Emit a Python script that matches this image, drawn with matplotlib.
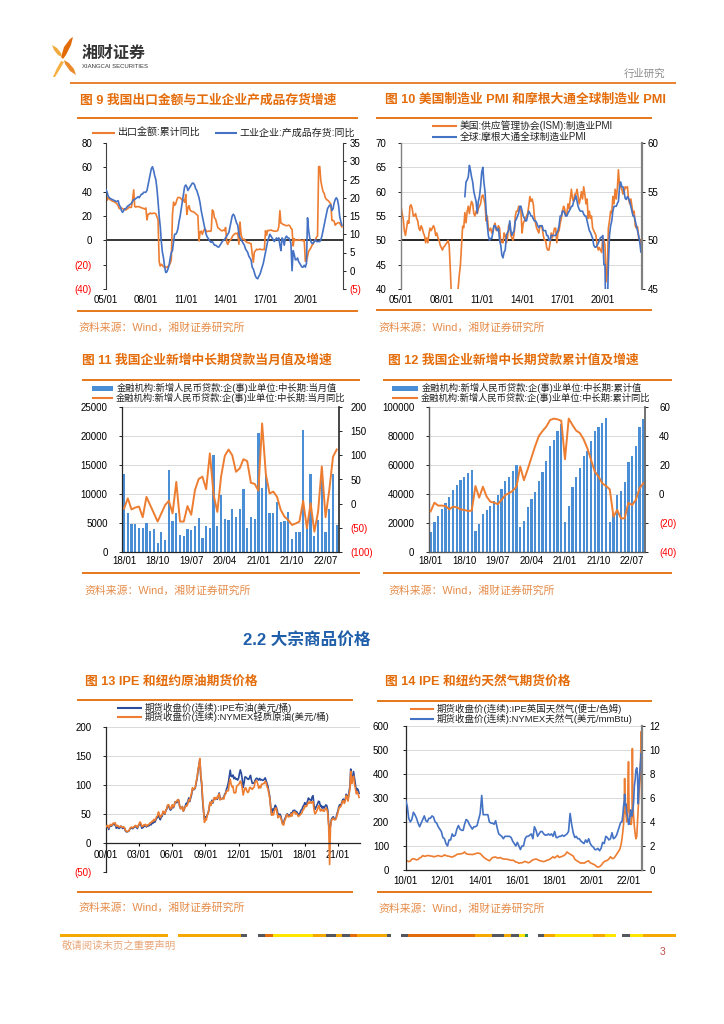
import numpy as np
import pandas as pd
import matplotlib
matplotlib.use('Agg')
import matplotlib.pyplot as plt
from matplotlib.patches import Polygon, Rectangle
from matplotlib.lines import Line2D

plt.rcParams['font.family'] = ['Liberation Sans', 'Noto Sans CJK SC']
plt.rcParams['axes.unicode_minus'] = False

# ---------------- DATA ----------------
# Chart 9 : export cumulative yoy (%), industrial finished-goods inventory yoy (%), monthly from 2005-01
exp_start = '2005-01'
exp_yoy = [42.2, 33.0, 34.9, 34.1, 33.3, 32.7, 32.1, 31.9, 31.3, 30.7, 30.0, 28.4,
           26.0, 26.5, 26.6, 26.0, 25.6, 25.2, 25.0, 25.7, 26.4, 27.5, 27.0, 27.2,
           33.0, 41.5, 27.8, 27.3, 27.8, 27.6, 27.7, 27.1, 26.8, 26.5, 26.1, 25.7,
           26.6, 16.8, 21.5, 21.5, 22.5, 21.9, 22.0, 22.4, 22.3, 21.9, 19.2, 17.2,
           -17.5, -21.1, -19.7, -20.5, -21.8, -21.8, -22.0, -22.3, -21.3, -20.5, -18.8, -16.0,
           21.0, 31.4, 28.7, 29.9, 33.2, 35.2, 35.2, 35.0, 34.0, 32.9, 33.3, 31.3,
           37.7, 21.3, 26.5, 28.5, 24.9, 24.0, 23.6, 23.6, 22.7, 22.0, 21.1, 20.3,
           -0.5, 6.9, 7.6, 4.9, 7.7, 9.2, 8.8, 7.1, 7.4, 7.8, 7.3, 7.9,
           25.0, 23.6, 18.4, 17.4, 14.1, 10.4, 9.7, 9.0, 8.0, 7.8, 8.5, 7.9,
           10.6, -1.6, -3.4, -1.2, 0.0, 0.9, 2.9, 4.3, 5.1, 5.8, 5.4, 6.1,
           -3.2, 15.0, 4.9, 1.6, 0.7, 0.9, -0.8, -1.4, -2.0, -1.9, -2.5, -2.8,
           -11.0, -18.0, -9.6, -8.6, -7.3, -7.7, -7.5, -7.1, -7.5, -7.7, -7.5, -7.7,
           7.9, 4.2, 8.2, 8.0, 8.2, 8.5, 8.0, 7.8, 7.5, 7.5, 7.6, 7.9,
           11.1, 24.4, 14.1, 13.8, 12.9, 12.9, 12.2, 12.0, 12.2, 12.5, 11.9, 9.9,
           9.1, -4.6, 1.4, 0.2, 0.0, 0.1, 0.6, 0.4, 0.0, -0.2, -0.3, 0.5,
           -17.2, -17.2, -13.4, -9.0, -7.7, -6.2, -4.1, -3.0, -0.8, 0.5, 2.5, 3.6,
           60.6, 60.6, 49.0, 44.0, 40.2, 38.6, 35.2, 33.7, 33.0, 32.3, 31.1, 29.9,
           16.3, 16.3, 15.8, 12.5, 13.5, 14.2, 14.6, 14.2, 12.5, 11.1]
inv_yoy = [22.2, 21.5, 20.5, 20.0, 19.8, 19.6, 19.5, 19.3, 19.2, 19.0, 19.0, 19.2,
           18.0, 17.5, 16.5, 16.0, 16.5, 17.0, 17.0, 17.5, 17.8, 18.0, 18.2, 18.5,
           19.0, 19.5, 19.5, 19.8, 20.0, 20.3, 20.0, 20.5, 21.0, 21.0, 21.5, 21.5,
           21.5, 22.0, 23.5, 25.0, 26.5, 28.0, 28.5, 27.5, 26.0, 25.0, 22.5, 19.0,
           15.0, 12.0, 8.0, 5.0, 3.5, 1.0, -0.5, -0.3, 0.5, 1.5, 3.5, 5.0,
           5.5, 8.0, 10.0, 10.0, 10.5, 11.5, 13.5, 15.0, 17.0, 19.0, 21.0, 23.0,
           23.5, 23.0, 22.0, 22.5, 23.0, 23.5, 24.0, 24.0, 23.5, 22.5, 22.0, 21.0,
           20.0, 18.5, 16.5, 15.0, 13.5, 12.0, 10.5, 9.5, 9.0, 8.5, 8.0, 7.8,
           8.0, 7.5, 7.0, 7.0, 6.8, 6.5, 6.5, 7.0, 7.5, 8.0, 8.3, 8.5,
           9.0, 9.5, 10.0, 10.5, 12.0, 13.5, 15.0, 15.5, 15.0, 14.0, 13.0, 12.5,
           10.0, 9.0, 8.5, 8.0, 7.5, 7.0, 6.0, 5.5, 5.0, 4.0, 3.5, 3.0,
           1.0, 0.5, -0.5, -1.5, -2.0, -2.2, -1.5, -1.0, 0.0, 1.0, 2.0, 3.5,
           5.0, 6.5, 8.0, 9.0, 10.0, 9.5, 9.0, 8.5, 8.0, 8.5, 9.0, 8.5,
           9.0, 7.0, 5.5, 9.0, 8.5, 7.0, 9.0, 9.5, 9.0, 9.0, 8.5, 7.5,
           0.0, 5.5, 4.5, 3.0, 3.0, 3.5, 2.5, 2.0, 1.5, 1.0, 1.0, 1.5,
           1.0, 2.0, 14.5, 11.0, 9.0, 8.0, 7.5, 7.5, 8.0, 8.5, 8.0, 8.0,
           8.0, 8.0, 8.5, 9.5, 11.0, 12.5, 14.0, 15.5, 17.0, 17.5, 18.0, 18.0,
           16.5, 17.0, 18.5, 19.5, 20.0, 19.5, 18.0, 15.0, 13.5, 12.5]
c9_xticks = ['2005-01', '2008-01', '2011-01', '2014-01', '2017-01', '2020-01']

# Chart 10 : US ISM manufacturing PMI (from 2005-01), JPM global manufacturing PMI (from 2009-10)
ism_start = '2005-01'
ism_pmi = [57.0, 55.5, 54.5, 52.0, 51.0, 52.5, 54.0, 53.5, 57.0, 57.3, 56.5, 55.0,
           55.0, 55.5, 54.5, 54.0, 52.5, 52.0, 53.0, 52.5, 51.5, 51.0, 49.5, 50.5,
           49.5, 51.5, 52.5, 52.0, 52.5, 53.0, 52.5, 51.0, 51.5, 50.5, 50.0, 49.0,
           48.5, 48.0, 48.6, 48.8, 49.2, 49.5, 50.0, 49.0, 44.0, 38.5, 36.0, 32.5,
           35.5, 35.8, 36.3, 40.1, 42.8, 44.8, 48.9, 52.9, 52.6, 55.7, 53.6, 55.9,
           57.0, 55.5, 57.0, 58.0, 57.5, 55.5, 55.0, 56.0, 55.5, 56.5, 57.0, 57.5,
           59.0, 59.3, 58.5, 57.5, 54.0, 55.0, 52.5, 52.0, 52.5, 51.5, 52.0, 53.0,
           53.5, 52.0, 52.5, 53.0, 52.5, 49.5, 49.8, 49.5, 51.5, 51.0, 49.5, 50.5,
           53.0, 53.5, 51.0, 50.5, 50.0, 51.5, 55.0, 56.0, 56.0, 57.0, 56.5, 56.0,
           51.5, 53.5, 54.0, 54.5, 55.0, 55.5, 57.0, 59.0, 58.0, 58.5, 57.5, 55.0,
           53.5, 52.5, 52.0, 51.5, 53.0, 53.0, 52.5, 51.0, 50.0, 50.0, 48.5, 48.0,
           48.0, 49.5, 51.5, 50.5, 51.5, 52.5, 52.5, 49.5, 51.5, 52.0, 53.5, 54.5,
           56.0, 57.0, 56.5, 55.0, 55.5, 57.5, 56.5, 58.5, 60.5, 58.5, 58.0, 59.5,
           59.5, 60.5, 59.0, 57.5, 58.5, 60.0, 58.5, 61.0, 59.5, 57.5, 58.5, 54.5,
           56.0, 54.5, 55.0, 52.5, 52.0, 51.5, 51.0, 49.0, 48.0, 48.5, 48.0, 47.5,
           50.5, 50.0, 49.0, 41.5, 43.0, 52.5, 54.0, 56.0, 55.5, 59.0, 57.5, 60.5,
           58.5, 60.8, 64.5, 61.0, 61.0, 60.5, 59.5, 59.9, 61.0, 60.8, 61.0, 58.5,
           57.5, 58.5, 57.0, 55.5, 56.0, 53.0, 52.5, 52.8, 50.5, 50.2, 49.0]
gpmi_start = '2009-10'
global_pmi = [54.5, 56.0, 56.2,
              56.5, 57.7, 57.2, 56.5, 56.0, 55.0, 54.5, 54.0, 52.8, 54.0, 54.5, 55.5,
              57.0, 57.5, 56.0, 55.0, 53.0, 51.6, 50.5, 50.0, 50.2, 50.2, 50.8, 51.5,
              51.5, 51.2, 51.0, 51.2, 50.0, 49.5, 48.5, 48.2, 48.8, 49.0, 50.5, 50.8,
              51.0, 52.0, 51.0, 50.5, 50.8, 51.0, 52.0, 52.2, 52.5, 52.8, 53.5, 53.5,
              53.0, 52.5, 52.3, 52.0, 52.0, 52.5, 53.0, 52.8, 52.5, 52.5, 52.2, 52.0,
              52.0, 51.8, 51.5, 51.3, 51.5, 51.5, 51.5, 51.0, 51.0, 51.0, 50.5, 50.5,
              50.0, 50.0, 50.5, 50.5, 50.5, 50.5, 50.5, 50.8, 51.0, 51.5, 52.5, 52.5,
              53.0, 53.0, 52.8, 52.5, 52.5, 52.8, 53.0, 53.2, 53.5, 53.5, 54.0, 54.2,
              54.6, 54.0, 53.5, 53.2, 53.0, 53.0, 53.0, 52.7, 52.5, 52.5, 52.0, 51.5,
              51.0, 50.8, 50.5, 50.2, 49.5, 49.3, 49.3, 49.5, 49.7, 50.0, 50.3, 50.3,
              50.5, 47.5, 47.5, 39.6, 42.4, 47.5, 50.5, 51.5, 52.0, 53.0, 53.5, 53.5,
              53.5, 53.8, 54.0, 55.5, 56.0, 55.5, 55.5, 55.0, 54.3, 54.2, 54.5, 54.3,
              54.0, 53.5, 53.0, 52.5, 52.5, 52.0, 51.5, 51.0, 50.5, 49.8, 48.8]

# Chart 11 / 12 : new medium/long-term corporate loans (100 million yuan), monthly from 2018-01
loan_start = '2018-01'
loan_month = [13400, 6700, 4800, 4800, 4200, 4100, 5000, 3600, 4000, 1500, 3400, 2100,
              14200, 5300, 6700, 3000, 2700, 3900, 3800, 4500, 5800, 2400, 4400, 4200,
              16800, 4400, 9800, 5700, 5500, 7500, 6100, 7400, 10800, 4200, 6000, 5700,
              20600, 11100, 13400, 6700, 6700, 8600, 5100, 5300, 6900, 2300, 3400, 3400,
              21000, 5000, 13500, 2700, 5600, 14500, 3500, 7400, 13500, 4700]
loan_month_yoy = [-10, 11, -12, -8, -6, -28, 14, -3, -20, -37, -20, -3,
                  6, -20, 45, -37, -37, -5, -23, 28, 51, 56, 30, 104,
                  18, -17, 56, 99, 112, 100, 66, 73, 92, 88, 43, 41,
                  27, 166, 61, 21, 25, 14, -13, -27, -34, -44, -41, -37,
                  6, -51, 1, -58, -17, 77, -28, 28, 97, 112]
loan_cum = [13600, 20500, 25000, 29700, 33600, 37700, 42800, 46000, 50000, 51500, 54700, 56800,
            14300, 19500, 26200, 29200, 31700, 35400, 39300, 43400, 49000, 51500, 55600, 59800,
            17200, 21400, 31000, 36500, 41600, 49200, 55400, 62800, 73300, 77200, 83400, 88300,
            20500, 31500, 45000, 51500, 58000, 66000, 70000, 76500, 83500, 86000, 89000, 92500,
            21000, 26000, 39500, 42000, 48000, 62000, 66000, 73000, 86500, 91500]
loan_cum_yoy = [-12, -6, -8, -8, -8.3, -10.6, -8.7, -9.2, -10.6, -11, -11.7, -11.5,
                5.5, -2.5, 5, -1.8, -5.3, -6, -7, -4, -0.7, 0.5, 2.3, 5,
                19, 9.5, 17, 25, 33, 40, 43.5, 46.5, 51, 52, 51.5, 50.5,
                24, 52, 47.6, 43.7, 42, 37.7, 31.5, 23.4, 15.4, 12, 7.4, 5.5,
                3.2, -15.6, -11, -16.8, -16.8, -6, -7.6, -4, 4, 7.4]

# Chart 13 : Brent (IPE) and WTI (NYMEX) futures, USD/bbl, monthly from 2000-01
oil_start = '2000-01'
brent = [25.5, 27.8, 27.5, 22.8, 27.6, 29.8, 28.6, 30.5, 33.0, 30.9, 32.6, 25.3,
         25.6, 27.5, 24.5, 25.7, 28.4, 27.7, 24.5, 25.8, 25.7, 20.5, 18.9, 18.7,
         19.4, 20.3, 23.7, 25.7, 25.4, 24.1, 25.7, 26.7, 28.4, 27.5, 24.4, 28.4,
         31.2, 32.8, 30.3, 25.0, 25.8, 27.6, 28.6, 29.8, 27.1, 29.6, 28.8, 29.8,
         31.3, 30.9, 33.8, 33.4, 37.9, 35.2, 38.2, 42.7, 43.2, 49.8, 43.1, 39.6,
         44.5, 45.5, 53.1, 51.9, 49.0, 55.6, 57.9, 63.8, 63.7, 59.4, 56.2, 57.6,
         63.9, 60.2, 62.3, 70.4, 70.0, 68.9, 73.9, 73.6, 62.8, 58.9, 59.1, 62.3,
         54.6, 58.0, 62.1, 67.5, 67.5, 71.3, 77.2, 70.8, 77.1, 82.9, 92.5, 91.4,
         91.9, 94.8, 103.3, 110.4, 123.9, 133.1, 144.0, 113.9, 99.1, 72.8, 53.2, 40.0,
         44.9, 43.4, 47.7, 51.0, 58.3, 69.2, 65.8, 73.0, 68.2, 73.9, 77.5, 75.2,
         76.9, 74.8, 79.9, 85.8, 77.0, 75.7, 75.5, 77.1, 78.4, 83.5, 86.1, 92.4,
         96.9, 104.0, 114.6, 125.0, 114.5, 113.9, 116.7, 110.4, 112.8, 109.6, 110.5, 107.9,
         110.7, 119.3, 125.5, 119.8, 110.3, 95.2, 102.6, 113.4, 113.0, 111.5, 109.5, 109.2,
         112.3, 116.1, 108.5, 102.3, 102.6, 102.9, 107.4, 110.3, 111.2, 109.5, 107.8, 110.8,
         108.1, 108.9, 107.5, 107.8, 109.5, 111.8, 106.8, 101.6, 97.1, 87.4, 79.4, 62.3,
         47.8, 58.1, 55.9, 59.5, 64.6, 61.7, 56.8, 48.2, 48.5, 49.3, 45.9, 38.9,
         31.9, 33.5, 39.8, 43.3, 47.7, 49.9, 46.6, 47.2, 47.2, 51.4, 47.1, 54.9,
         55.5, 56.0, 52.5, 53.8, 51.4, 47.6, 49.1, 51.9, 56.2, 57.5, 62.7, 64.4,
         69.1, 65.7, 66.7, 71.6, 77.0, 74.4, 74.3, 72.5, 78.9, 81.0, 64.8, 57.4,
         60.2, 64.4, 67.0, 71.6, 70.3, 63.0, 64.2, 59.5, 62.3, 59.6, 63.0, 65.2,
         63.6, 55.7, 32.0, 20.0, 29.4, 40.3, 43.2, 44.7, 40.9, 40.2, 43.0, 49.9,
         54.8, 62.3, 65.4, 64.8, 68.0, 73.1, 75.2, 70.8, 74.5, 83.5, 81.1, 74.2,
         86.5, 97.1, 127.0, 104.6, 113.3, 122.7, 111.9, 100.4, 89.8, 93.3, 91.0, 85.0]
wti = [27.3, 29.4, 29.9, 25.7, 28.8, 31.8, 29.7, 31.3, 33.9, 33.1, 34.4, 28.5,
       29.6, 29.6, 27.2, 27.4, 28.6, 27.6, 26.4, 27.4, 26.2, 22.2, 19.6, 19.3,
       19.7, 20.7, 24.5, 26.2, 27.0, 25.5, 27.0, 28.3, 29.7, 28.9, 26.3, 29.4,
       32.9, 35.9, 33.6, 28.3, 28.1, 30.7, 30.8, 31.6, 28.3, 30.3, 31.1, 32.1,
       34.3, 34.7, 36.8, 36.7, 40.3, 38.0, 40.7, 44.9, 45.9, 53.1, 48.5, 43.3,
       46.8, 48.0, 54.3, 53.0, 50.0, 56.5, 58.7, 64.9, 65.6, 62.4, 58.3, 59.4,
       65.5, 61.6, 62.9, 69.7, 70.9, 71.0, 74.4, 73.0, 63.8, 58.9, 59.1, 62.0,
       54.5, 59.3, 60.4, 63.9, 63.4, 67.5, 74.1, 72.4, 79.9, 85.8, 94.8, 91.7,
       93.0, 95.4, 105.4, 112.6, 125.4, 133.9, 145.0, 116.7, 104.1, 76.6, 57.3, 35.0,
       41.7, 39.1, 47.9, 49.7, 59.0, 69.6, 64.2, 71.0, 69.4, 75.7, 78.0, 74.5,
       78.3, 76.4, 81.2, 84.3, 73.7, 75.3, 76.3, 76.6, 75.2, 81.9, 84.2, 89.2,
       89.5, 89.6, 102.9, 109.5, 100.9, 96.3, 97.3, 86.3, 85.6, 86.4, 97.2, 98.6,
       100.3, 102.2, 106.2, 103.3, 94.7, 82.3, 87.9, 94.1, 94.5, 89.5, 86.5, 87.9,
       94.8, 95.3, 92.9, 92.0, 94.5, 95.8, 104.6, 106.6, 106.3, 100.5, 93.9, 97.6,
       94.6, 100.8, 100.8, 102.1, 102.2, 105.8, 103.6, 96.5, 93.2, 84.4, 75.8, 59.3,
       47.2, 50.6, 47.8, 54.5, 59.3, 59.8, 50.9, 42.9, 45.5, 46.2, 42.4, 37.2,
       31.7, 30.3, 37.5, 40.8, 46.7, 48.8, 44.7, 44.7, 45.2, 49.8, 45.7, 52.0,
       52.5, 53.5, 49.3, 51.1, 48.5, 45.2, 46.6, 48.0, 49.8, 51.6, 56.6, 57.9,
       63.7, 62.2, 62.7, 66.3, 70.0, 67.9, 71.0, 68.1, 70.2, 70.8, 57.0, 49.5,
       51.4, 54.9, 58.2, 63.9, 60.8, 54.7, 57.4, 54.8, 57.0, 54.0, 57.0, 59.9,
       57.5, 50.5, 29.2, -37.6, 28.6, 38.3, 40.7, 42.3, 39.6, 39.4, 41.4, 47.0,
       52.0, 59.1, 62.4, 61.7, 65.2, 71.4, 72.5, 67.7, 71.6, 81.5, 79.2, 71.7,
       83.2, 91.6, 123.0, 101.8, 109.3, 114.8, 101.6, 93.7, 84.3, 87.6, 84.0, 78.0]

# Chart 14 : IPE UK natural gas (pence/therm) and NYMEX natural gas (USD/mmBtu)
gas_month_start = '2010-01'
gas_month_end = '2021-06'
gas_late_dates = ['2021-07-01', '2021-07-15', '2021-08-01', '2021-08-15', '2021-09-01', '2021-09-15',
                  '2021-10-01', '2021-10-06', '2021-10-15', '2021-11-01', '2021-11-15', '2021-12-01',
                  '2021-12-21', '2022-01-01', '2022-01-15', '2022-02-01', '2022-02-15', '2022-03-01',
                  '2022-03-07', '2022-03-15', '2022-04-01', '2022-04-15', '2022-05-01', '2022-05-15',
                  '2022-06-01', '2022-06-15', '2022-07-01', '2022-07-15', '2022-08-01', '2022-08-15',
                  '2022-08-26', '2022-09-01', '2022-09-05']
uk_gas = [40, 38, 35, 37, 45, 47, 45, 42, 44, 50, 53, 60,
          57, 58, 60, 60, 58, 58, 55, 56, 58, 60, 58, 56,
          58, 63, 60, 58, 57, 55, 54, 57, 60, 65, 66, 67,
          68, 70, 75, 68, 66, 65, 65, 64, 66, 68, 70, 70,
          68, 62, 55, 50, 45, 42, 38, 45, 52, 53, 54, 50,
          50, 52, 48, 46, 45, 45, 44, 42, 40, 41, 38, 33,
          32, 28, 30, 30, 33, 36, 33, 30, 32, 38, 42, 44,
          46, 43, 40, 38, 36, 35, 37, 40, 42, 45, 50, 55,
          50, 55, 60, 52, 55, 57, 60, 65, 75, 70, 66, 62,
          58, 45, 40, 36, 32, 28, 30, 28, 32, 36, 38, 30,
          27, 24, 21, 15, 12, 14, 19, 28, 35, 38, 40, 46,
          55, 48, 48, 55, 65, 75,
          85, 95, 110, 130, 160, 190, 300, 380, 240, 230, 200, 250,
          450, 250, 200, 190, 190, 230, 505, 280, 220, 180, 150, 130,
          140, 200, 260, 320, 380, 450, 575, 400, 300]
us_gas = [5.8, 5.3, 4.3, 4.0, 4.2, 4.8, 4.6, 4.3, 3.9, 3.6, 3.9, 4.2,
          4.5, 4.1, 4.0, 4.3, 4.3, 4.5, 4.4, 4.0, 3.9, 3.6, 3.4, 3.2,
          2.7, 2.6, 2.2, 2.0, 2.5, 2.5, 3.0, 2.8, 2.9, 3.4, 3.7, 3.4,
          3.3, 3.3, 3.8, 4.2, 4.1, 3.8, 3.6, 3.4, 3.6, 3.6, 3.7, 4.2,
          4.7, 6.2, 4.6, 4.6, 4.6, 4.6, 4.0, 3.9, 3.9, 3.8, 4.1, 3.5,
          3.0, 2.9, 2.8, 2.6, 2.8, 2.8, 2.8, 2.8, 2.7, 2.4, 2.2, 2.0,
          2.3, 2.0, 1.7, 2.0, 2.0, 2.6, 2.8, 2.8, 2.9, 3.0, 2.6, 3.6,
          3.3, 2.8, 3.0, 3.2, 3.2, 3.0, 2.9, 2.9, 3.0, 2.9, 3.0, 2.8,
          3.2, 2.7, 2.7, 2.8, 2.8, 2.9, 2.8, 2.9, 3.0, 3.2, 4.7, 3.8,
          3.1, 2.7, 2.8, 2.6, 2.6, 2.4, 2.3, 2.2, 2.5, 2.3, 2.6, 2.2,
          2.0, 1.9, 1.7, 1.7, 1.8, 1.6, 1.8, 2.3, 2.2, 2.8, 2.7, 2.5,
          2.6, 3.1, 2.6, 2.7, 2.9, 3.3,
          3.7, 3.9, 4.0, 4.0, 4.6, 5.3, 5.8, 6.3, 5.4, 5.5, 4.8, 4.5,
          3.8, 3.8, 4.3, 5.0, 4.5, 4.5, 4.8, 4.9, 5.7, 7.0, 7.5, 8.3,
          8.5, 8.0, 5.5, 7.0, 8.2, 9.0, 9.7, 9.1, 8.5]

# ---------------- STYLE ----------------
ORANGE = '#ED7D31'
BLUE = '#4472C4'
NAVY = '#2B4C9B'
BARC = '#4A8ED6'
TITLE_C = '#E46C0A'
SRC_C = '#E58C4A'
RED = '#FF0000'
GRID = '#D9D9D9'
SEP = '#E46C0A'

W, H = 724, 1024
fig = plt.figure(figsize=(7.24, 10.24), dpi=100)
fig.patch.set_facecolor('white')


def add_ax(x0, y0, x1, y1):
    return fig.add_axes([x0 / W, 1 - y1 / H, (x1 - x0) / W, (y1 - y0) / H])


def ftext(x, y, s, **kw):
    kw.setdefault('va', 'center')
    return fig.text(x / W, 1 - y / H, s, **kw)


def hline(x0, x1, y, color, lw):
    fig.add_artist(Line2D([x0 / W, x1 / W], [1 - y / H, 1 - y / H], color=color, lw=lw,
                          solid_capstyle='butt'))


def frect(x0, x1, y0, y1, color):
    fig.add_artist(Rectangle((x0 / W, 1 - y1 / H), (x1 - x0) / W, (y1 - y0) / H,
                             facecolor=color, edgecolor='none'))


def yfmt(ax, ticks, pad, size=7):
    ax.set_yticks(ticks)
    ax.set_yticklabels([f'({abs(t):g})' if t < 0 else f'{t:g}' for t in ticks])
    for t, tk in zip(ticks, ax.yaxis.get_major_ticks()):
        c = RED if t < 0 else 'black'
        tk.label1.set_color(c)
        tk.label2.set_color(c)
    ax.tick_params(axis='y', labelsize=size, pad=pad, length=2, width=0.6)


def date_xticks(ax, ticks, pad=3.5, length=0):
    tdates = pd.to_datetime(ticks)
    ax.set_xticks(tdates)
    ax.set_xticklabels([d.strftime('%y/%m') for d in tdates])
    ax.tick_params(axis='x', labelsize=7, pad=pad, length=length)


def spines(ax, show, color='#404040', lw=0.8):
    for k, sp in ax.spines.items():
        sp.set_visible(k in show)
        sp.set_color(color)
        sp.set_linewidth(lw)


def title(x, y, s):
    ftext(x, y, s, fontsize=9.2, fontweight='bold', color=TITLE_C, ha='left')


def source(x, y):
    ftext(x, y, '资料来源：Wind，湘财证券研究所', fontsize=7.8, color=SRC_C, ha='left')


def leg_line(x0, x1, y, color, text, fs, lw=1.5):
    hline(x0, x1, y, color, lw)
    ftext(x1 + 2.5, y, text, fontsize=fs, color='#222222', ha='left')


def leg_rect(x0, x1, y, color, text, fs):
    frect(x0, x1, y - 2.5, y + 2.5, color)
    ftext(x1 + 3.5, y, text, fontsize=fs, color='#222222', ha='left')


# ---------------- HEADER ----------------
petals = [
    ([(61, 57), (64, 47), (70, 39), (73, 37), (71, 45), (66, 55), (63, 59)], '#E36C0A'),
    ([(52, 45), (57, 48), (61, 53), (62, 57), (58, 55), (54, 50)], '#F2A93B'),
    ([(61, 61), (64, 62), (60, 69), (55, 77), (53, 77), (57, 68)], '#F5B041'),
    ([(64, 60), (69, 63), (74, 69), (76, 75), (70, 71), (65, 64)], '#EB8A2B'),
]
for pts, col in petals:
    fig.add_artist(Polygon([(x / W, 1 - y / H) for x, y in pts], closed=True,
                           facecolor=col, edgecolor='none'))
ftext(82, 53, '湘财证券', fontsize=11.5, fontweight='bold', color='#333333', ha='left')
ftext(82, 67, 'XIANGCAI SECURITIES', fontsize=4.3, color='#333333', ha='left')
ftext(624, 74, '行业研究', fontsize=7.5, color='#8C8C8C', ha='left')
hline(70, 676, 83, SEP, 1.2)

# ---------------- CHART 9 ----------------
title(80, 100, '图 9 我国出口金额与工业企业产成品存货增速')
hline(77, 358, 118, SEP, 1.3)
hline(77, 358, 311, SEP, 1.3)
leg_line(92, 115, 133, ORANGE, '出口金额:累计同比', 7.2)
leg_line(215, 237, 133, BLUE, '工业企业:产成品存货:同比', 7.2)
source(78, 328)

ax = add_ax(106, 143, 343, 289)
d9a = pd.date_range(exp_start, periods=len(exp_yoy), freq='MS')
d9b = pd.date_range(exp_start, periods=len(inv_yoy), freq='MS')
ax.plot(d9a, exp_yoy, color=ORANGE, lw=1.2)
ax.axhline(0, color='black', lw=1.1, zorder=1)
ax.set_ylim(-40, 80)
ax.set_xlim(pd.Timestamp('2005-01-01'), pd.Timestamp('2022-11-01'))
yfmt(ax, [-40, -20, 0, 20, 40, 60, 80], pad=8)
date_xticks(ax, c9_xticks, pad=4)
spines(ax, ['left'])
ax2 = ax.twinx()
ax2.plot(d9b, inv_yoy, color=BLUE, lw=1.2)
ax2.set_ylim(-5, 35)
yfmt(ax2, [-5, 0, 5, 10, 15, 20, 25, 30, 35], pad=2.5)
spines(ax2, ['right'])
ax2.set_xlim(ax.get_xlim())

# ---------------- CHART 10 ----------------
title(385, 100, '图 10 美国制造业 PMI 和摩根大通全球制造业 PMI')
hline(376, 652, 118, SEP, 1.3)
hline(376, 652, 310, SEP, 1.3)
leg_line(432, 457, 126, ORANGE, '美国:供应管理协会(ISM):制造业PMI', 7.0)
leg_line(432, 457, 137, BLUE, '全球:摩根大通全球制造业PMI', 7.0)
source(378, 328)

ax = add_ax(401, 143, 642, 289)
d10a = pd.date_range(ism_start, periods=len(ism_pmi), freq='MS')
d10b = pd.date_range(gpmi_start, periods=len(global_pmi), freq='MS')
for g in [45, 55, 60, 65, 70]:
    ax.axhline(g, color=GRID, lw=0.7, zorder=0)
ax.plot(d10a, ism_pmi, color=ORANGE, lw=1.2)
ax.axhline(50, color='black', lw=1.2, zorder=1)
ax.set_ylim(40, 70)
ax.set_xlim(pd.Timestamp('2005-01-01'), pd.Timestamp('2022-12-01'))
yfmt(ax, [40, 45, 50, 55, 60, 65, 70], pad=8.5)
date_xticks(ax, c9_xticks, pad=4)
spines(ax, ['left'], color='#808080', lw=1.0)
ax2 = ax.twinx()
ax2.plot(d10b, global_pmi, color=BLUE, lw=1.2)
ax2.set_ylim(45, 60)
yfmt(ax2, [45, 50, 55, 60], pad=2)
spines(ax2, ['right'], color='#808080', lw=1.6)
ax2.set_xlim(ax.get_xlim())

# ---------------- CHART 11 ----------------
months = pd.period_range(loan_start, periods=len(loan_month), freq='M')
idx = np.arange(len(months))
tick_idx = idx[::9]
tick_lab = [months[i].strftime('%y/%m') for i in tick_idx]

title(82, 361, '图 11 我国企业新增中长期贷款当月值及增速')
hline(82, 360, 380, SEP, 1.3)
hline(82, 360, 573, SEP, 1.3)
leg_rect(92, 113, 388, BARC, '金融机构:新增人民币贷款:企(事)业单位:中长期:当月值', 6.7)
leg_line(92, 113, 397.5, ORANGE, '金融机构:新增人民币贷款:企(事)业单位:中长期:当月同比', 6.7)
source(84, 591)

ax = add_ax(122.2, 407, 338.6, 552)
for g in [5000, 10000, 15000, 20000, 25000]:
    ax.axhline(g, color=GRID, lw=0.7, zorder=0)
ax.bar(idx, loan_month, width=0.6, color=BARC, zorder=2)
ax.set_ylim(0, 25000)
ax.set_xlim(-0.5, len(idx) - 0.5)
yfmt(ax, [0, 5000, 10000, 15000, 20000, 25000], pad=8.5)
ax.set_xticks(tick_idx)
ax.set_xticklabels(tick_lab)
ax.tick_params(axis='x', labelsize=7, pad=3, length=2, direction='in', width=0.6)
spines(ax, ['left', 'bottom'], color='#262626', lw=0.9)
ax2 = ax.twinx()
ax2.plot(idx, loan_month_yoy, color=ORANGE, lw=1.4)
ax2.set_ylim(-100, 200)
yfmt(ax2, [-100, -50, 0, 50, 100, 150, 200], pad=6.5)
spines(ax2, ['right'], color='#262626', lw=1.2)
ax2.set_xlim(ax.get_xlim())

# ---------------- CHART 12 ----------------
title(388, 361, '图 12 我国企业新增中长期贷款累计值及增速')
hline(383, 672, 380, SEP, 1.3)
hline(383, 672, 573, SEP, 1.3)
leg_rect(392, 418, 388, BARC, '金融机构:新增人民币贷款:企(事)业单位:中长期:累计值', 6.7)
leg_line(392, 418, 397.5, ORANGE, '金融机构:新增人民币贷款:企(事)业单位:中长期:累计同比', 6.7)
source(388, 591)

ax = add_ax(428.8, 407, 645.2, 552)
for g in [20000, 40000, 60000, 80000, 100000]:
    ax.axhline(g, color=GRID, lw=0.7, zorder=0)
ax.bar(idx, loan_cum, width=0.6, color=BARC, zorder=2)
ax.set_ylim(0, 100000)
ax.set_xlim(-0.5, len(idx) - 0.5)
yfmt(ax, [0, 20000, 40000, 60000, 80000, 100000], pad=8.5)
ax.set_xticks(tick_idx)
ax.set_xticklabels(tick_lab)
ax.tick_params(axis='x', labelsize=7, pad=3, length=2, direction='in', width=0.6)
spines(ax, ['left', 'bottom'], color='#595959', lw=1.0)
ax2 = ax.twinx()
ax2.plot(idx, loan_cum_yoy, color=ORANGE, lw=1.4)
ax2.set_ylim(-40, 60)
yfmt(ax2, [-40, -20, 0, 20, 40, 60], pad=8)
spines(ax2, ['right'], color='#595959', lw=1.2)
ax2.set_xlim(ax.get_xlim())

# ---------------- SECTION HEADING ----------------
ftext(243, 640, '2.2 大宗商品价格', fontsize=12, fontweight='bold', color='#1F5FAA', ha='left')

# ---------------- CHART 13 ----------------
title(85, 682, '图 13 IPE 和纽约原油期货价格')
hline(77, 353, 700, SEP, 1.3)
hline(77, 353, 892, SEP, 1.3)
leg_line(117, 142, 707.5, NAVY, '期货收盘价(连续):IPE布油(美元/桶)', 6.8)
leg_line(117, 142, 717, ORANGE, '期货收盘价(连续):NYMEX轻质原油(美元/桶)', 6.8)
source(78, 908)

ax = add_ax(106, 726.7, 360, 871.7)
d13 = pd.date_range(oil_start, periods=len(brent), freq='MS')
for g in [-50, 50, 100, 150, 200]:
    ax.axhline(g, color=GRID, lw=0.7, zorder=0)
ax.plot(d13, brent, color=NAVY, lw=1.2, zorder=2)
ax.plot(d13, wti, color=ORANGE, lw=1.2, zorder=3)
ax.set_ylim(-50, 200)
ax.set_xlim(pd.Timestamp('2000-01-01'), pd.Timestamp('2023-01-01'))
yfmt(ax, [-50, 0, 50, 100, 150, 200], pad=8.5)
date_xticks(ax, ['2000-01', '2003-01', '2006-01', '2009-01', '2012-01', '2015-01', '2018-01', '2021-01'],
            pad=3.2, length=2)
spines(ax, ['left', 'bottom'], color='#262626', lw=0.9)
ax.spines['bottom'].set_position(('data', 0))
ax.spines['bottom'].set_zorder(4)

# ---------------- CHART 14 ----------------
title(385, 682, '图 14 IPE 和纽约天然气期货价格')
hline(377, 652, 701, SEP, 1.3)
hline(377, 652, 892, SEP, 1.3)
leg_line(410, 434, 709, ORANGE, '期货收盘价(连续):IPE英国天然气(便士/色姆)', 6.8)
leg_line(410, 434, 719, BLUE, '期货收盘价(连续):NYMEX天然气(美元/mmBtu)', 6.8)
source(378, 909)

gas_dates = list(pd.date_range(gas_month_start, gas_month_end, freq='MS')) + list(pd.to_datetime(gas_late_dates))
ax = add_ax(405.7, 725.7, 641.7, 870)
for g in [100, 200, 300, 400, 500, 600]:
    ax.axhline(g, color=GRID, lw=0.7, zorder=0)
ax.plot(gas_dates, uk_gas, color=ORANGE, lw=1.2, zorder=2)
ax.set_ylim(0, 600)
ax.set_xlim(pd.Timestamp('2010-01-01'), pd.Timestamp('2022-09-06'))
yfmt(ax, [0, 100, 200, 300, 400, 500, 600], pad=10)
date_xticks(ax, ['2010-01', '2012-01', '2014-01', '2016-01', '2018-01', '2020-01', '2022-01'], pad=4)
spines(ax, ['left', 'bottom'], color='#262626', lw=0.9)
ax2 = ax.twinx()
ax2.plot(gas_dates, us_gas, color=BLUE, lw=1.2)
ax2.set_ylim(0, 12)
yfmt(ax2, [0, 2, 4, 6, 8, 10, 12], pad=3.5)
spines(ax2, ['right'], color='#808080', lw=1.6)
ax2.set_xlim(ax.get_xlim())

# ---------------- FOOTER ----------------
GOLD, GRAY, ORG, YEL, TEAL = '#F5A800', '#55575F', '#E36C0A', '#FFE600', '#2E8B57'
footer_segs = [(60.5, 167.8, GOLD), (178.3, 241.4, GOLD), (241.4, 246.9, GRAY),
               (258.3, 264.6, GRAY), (264.6, 273, ORG), (273, 313, YEL), (313, 325.6, GOLD),
               (325.6, 336, GRAY), (336, 342.4, GOLD), (342.4, 349.5, GRAY), (349.5, 357, ORG),
               (357, 386.6, GOLD), (386.6, 390.8, GRAY), (401.3, 407.6, GRAY), (407.6, 474.9, ORG),
               (474.9, 491.7, GOLD), (491.7, 504.4, GRAY), (504.4, 510.7, GOLD), (510.7, 519, GRAY),
               (519, 525.4, YEL), (525.4, 527.5, TEAL), (538, 544.3, GRAY), (544.3, 554.8, GOLD),
               (554.8, 592.7, YEL), (592.7, 605.3, GOLD), (605.3, 615.8, YEL), (622, 629.7, GRAY),
               (629.7, 643.2, YEL), (643.2, 676, GOLD)]
for x0, x1, c in footer_segs:
    frect(x0, x1, 933.5, 936.5, c)
ftext(62, 946, '敬请阅读末页之重要声明', fontsize=7.5, color='#E8A77A', ha='left')
ftext(660, 952, '3', fontsize=7.5, color='#C0504D', ha='left')

fig.savefig('out.png', dpi=100, facecolor='white')
